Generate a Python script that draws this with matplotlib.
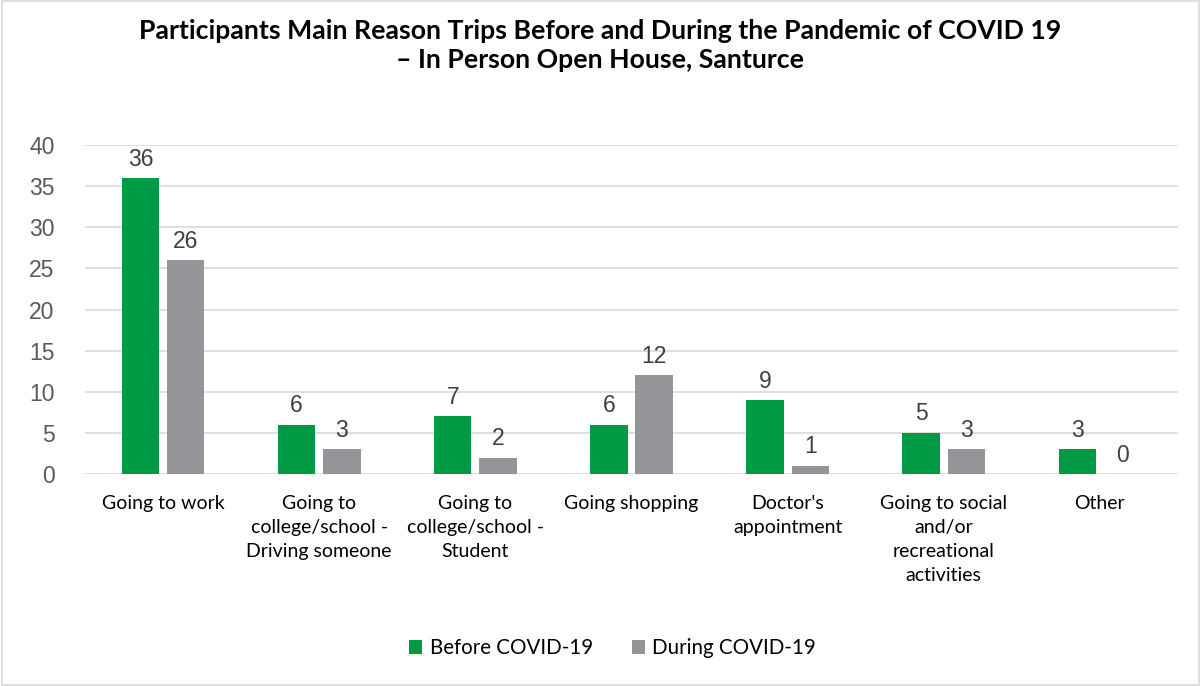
import matplotlib
matplotlib.use("Agg")
import matplotlib.pyplot as plt
import numpy as np
from matplotlib.patches import Rectangle

categories = ["Going to work", "Going to\ncollege/school -\nDriving someone",
              "Going to\ncollege/school -\nStudent", "Going shopping",
              "Doctor's\nappointment", "Going to social\nand/or\nrecreational\nactivities", "Other"]
before = [36, 6, 7, 6, 9, 5, 3]
during = [26, 3, 2, 12, 1, 3, 0]
yticks = [0, 5, 10, 15, 20, 25, 30, 35, 40]

green = "#009A44"
gray = "#939598"

fig = plt.figure(figsize=(12.01, 6.86), dpi=100)
fig.patches.append(Rectangle((0.002, 0.002), 0.996, 0.996, transform=fig.transFigure,
                             fill=False, edgecolor="#D9D9D9", linewidth=1.2))
ax = fig.add_axes([0.0708, 0.309, 0.910, 0.4796])

x = np.arange(len(categories))
w = 0.24
off = 0.145
b1 = ax.bar(x - off, before, w, color=green, label="Before COVID-19", zorder=3)
b2 = ax.bar(x + off, during, w, color=gray, label="During COVID-19", zorder=3)

for bars in (b1, b2):
    for r in bars:
        ax.text(r.get_x() + r.get_width() / 2, r.get_height() + 0.9, f"{int(r.get_height())}",
                ha="center", va="bottom", fontsize=16.5, color="#404040", family="Liberation Sans")

ax.set_xlim(-0.5, len(categories) - 0.5)
ax.set_ylim(0, 40)
ax.set_yticks(yticks)
ax.set_yticklabels([str(t) for t in yticks], fontsize=16.5, color="#595959", family="Liberation Sans")
ax.set_xticks(x)
ax.set_xticklabels(categories, fontsize=14, color="#000000", family="Lato", linespacing=1.5, va="top")
ax.tick_params(axis="both", length=0)
ax.tick_params(axis="x", pad=15)
ax.tick_params(axis="y", pad=22)
ax.grid(axis="y", color="#D9D9D9", linewidth=1.2, zorder=0)
for s in ax.spines.values():
    s.set_visible(False)

fig.text(0.5, 0.972, "Participants Main Reason Trips Before and During the Pandemic of COVID 19\n\u2013 In Person Open House, Santurce",
         ha="center", va="top", fontsize=19.2, fontweight="bold", family="Lato", linespacing=1.25)

fig.legend(handles=[b1, b2], loc="center", bbox_to_anchor=(0.51, 0.055), ncol=2, frameon=False,
           prop={"family": "Lato", "size": 14.8}, handlelength=0.65, handleheight=0.65,
           handletextpad=0.35, columnspacing=1.9)

fig.savefig("out.png", dpi=100)
